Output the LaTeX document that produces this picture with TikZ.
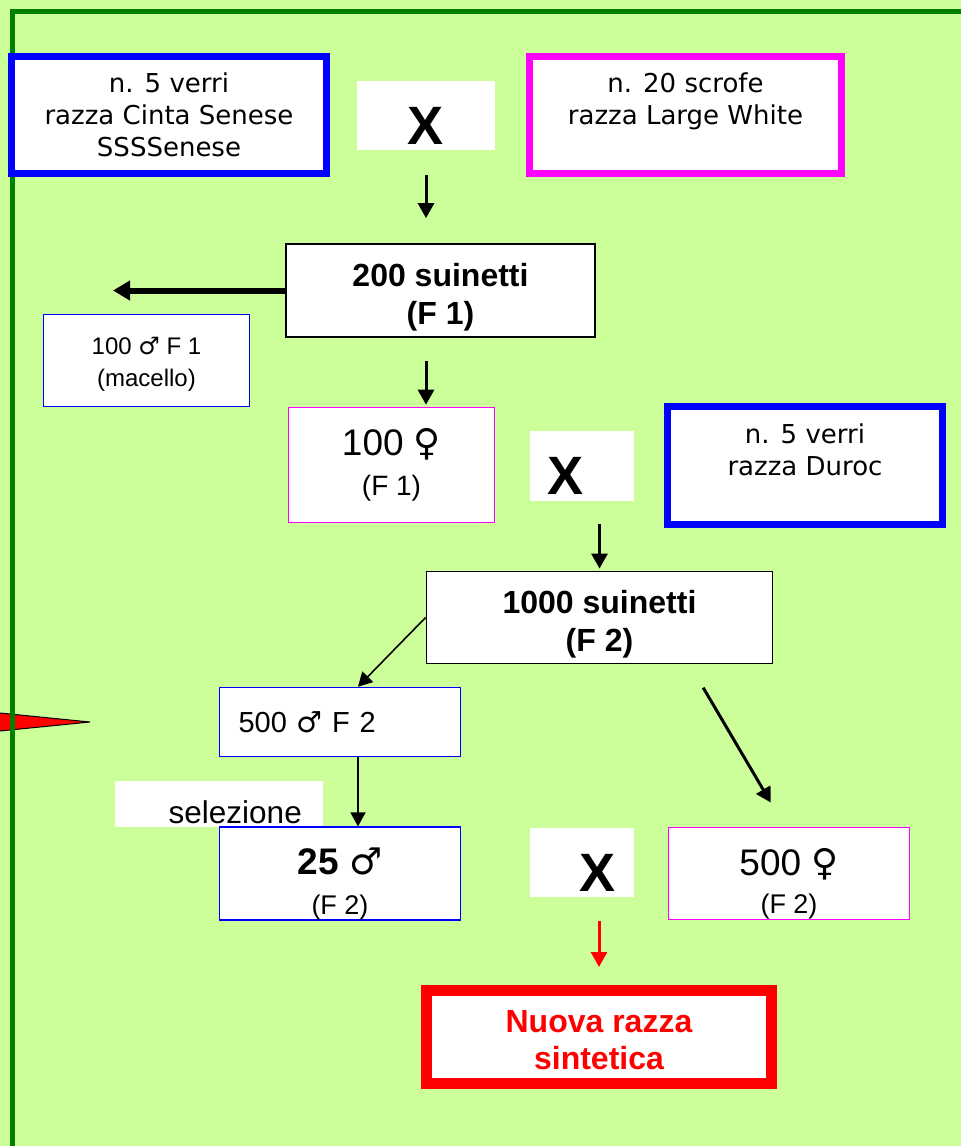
\documentclass[tikz,border=0pt]{standalone}
\usepackage{fontspec}
\setmainfont{Liberation Sans}
\newfontfamily\verdana{DejaVu Sans}
\newfontfamily\symb{DejaVu Sans}
\usetikzlibrary{arrows.meta,positioning,calc}
\definecolor{Leaf}{HTML}{CCFF99}
\definecolor{Forest}{HTML}{008000}
\definecolor{Royal}{HTML}{0000FF}
\definecolor{Fuchsia}{HTML}{FF00FF}
\definecolor{Scarlet}{HTML}{FF0000}
\newcommand{\fsz}[2]{\fontsize{#1}{#2}\selectfont}
\newcommand{\mars}{{\symb\mdseries ♂}}
\newcommand{\venus}{{\symb\mdseries ♀}}

\begin{document}
\begin{tikzpicture}[x=1pt,y=-1pt,
  box/.style={draw,fill=white,rectangle,inner sep=0pt,align=center},
  breed/.style={box,line width=7pt,font=\verdana\fsz{26}{32}},
  litter/.style={box,line width=1.8pt,font=\bfseries\fsz{32}{38}},
  group/.style={box,line width=1.6pt},
  xbox/.style={fill=white,inner sep=0pt},
  xmark/.style={anchor=base,inner sep=0pt,font=\bfseries\fsz{54}{54}},
  arr/.style={-{Triangle[length=15pt,width=16pt]},line width=3pt},
  thinarr/.style={-{Triangle[length=14pt,width=15pt]},line width=1.6pt}]
  \fill[Leaf] (0,0) rectangle (961,1146);
  \useasboundingbox (0,0) rectangle (961,1146);
  \begin{scope}
    \clip (0,0) rectangle (961,1146);
    \draw[fill=Scarlet,line width=1pt] (90,722) -- (-60,707) -- (-60,737) -- cycle;
    \draw[Forest,line width=4.5pt] (12.5,1160) -- (12.5,11.5) -- (975,11.5);
  \end{scope}

  \node[breed,draw=Royal,minimum width=315pt,minimum height=117pt] (cinta) at (169,115) {n. 5 verri\\razza Cinta Senese\\SSSSenese};
  \node[xbox,minimum width=138pt,minimum height=69pt] (xa) at (426,115.5) {};
  \node[xmark] (xamark) at (426,144) {X};
  \node[breed,draw=Fuchsia,minimum width=312pt,minimum height=117pt] (lw) at (685.5,115) {n. 20 scrofe\\razza Large White\\\mbox{}};

  \node[litter,minimum width=309pt,minimum height=93pt] (fa) at (440.5,290.5) {\rule{0pt}{37pt}200 suinetti\\(F 1)};
  \coordinate (macello) at (113,290.5);
  \node[group,draw=Royal,font=\fsz{24}{32},minimum width=206pt,minimum height=92pt] (maschia) at (146.5,360.5) {\rule{0pt}{24pt}100 \mars{} F 1\\(macello)};
  \node[group,draw=Fuchsia,font=\fsz{28}{40},minimum width=206pt,minimum height=115pt] (femmina) at (391.5,465) {{\fsz{37}{40}100 \venus}\\(F 1)};
  \node[xbox,minimum width=104pt,minimum height=70pt] (xb) at (582,466) {};
  \node[xmark] (xbmark) at (566,494) {X};
  \node[breed,draw=Royal,minimum width=275pt,minimum height=118pt] (duroc) at (805,465.5) {n. 5 verri\\razza Duroc\\\mbox{}};

  \node[litter,minimum width=346pt,minimum height=92pt] (fb) at (599.5,617.5) {\rule{0pt}{37pt}1000 suinetti\\(F 2)};
  \node[group,draw=Royal,font=\fsz{29}{34},align=left,text width=203pt,inner xsep=19pt,minimum height=69pt] (maschib) at (340,722) {500 \mars{} F 2};
  \node[xbox,minimum width=208pt,minimum height=46pt] (selbox) at (219,804) {};
  \node[font=\fsz{31.5}{36},anchor=base east,inner sep=0pt] (sel) at (302,823) {selezione};
  \node[group,draw=Royal,font=\fsz{27}{40},minimum width=241pt,minimum height=92pt] (venticinque) at (340,873.5) {\rule{0pt}{47pt}{\fsz{37}{40}\textbf{25} \mars}\\(F 2)};
  \node[xbox,minimum width=104pt,minimum height=69pt] (xc) at (582,862.5) {};
  \node[xmark] (xcmark) at (598,891) {X};
  \node[group,draw=Fuchsia,font=\fsz{27}{38},minimum width=241pt,minimum height=92pt] (cinquecento) at (789,873.5) {\rule{0pt}{47pt}{\fsz{37}{38}500 \venus}\\(F 2)};
  \node[box,draw=Scarlet,line width=11pt,text=Scarlet,font=\bfseries\fsz{32}{37},minimum width=345pt,minimum height=93pt] (nuova) at (599,1037) {\rule{0pt}{29pt}Nuova razza\\sintetica};

  \draw[arr,shorten <=25pt,shorten >=25pt] (xa.south) -- (xa.south |- fa.north);
  \draw[-{Triangle[length=17pt,width=19pt]},line width=6pt] (fa.west) -- (macello);
  \draw[arr,shorten <=23pt,shorten >=2pt] (fa.south -| xa.south) -- (femmina.north -| xa.south);
  \draw[arr,shorten <=23pt,shorten >=2pt] (xb.south -| fb.north) -- (fb.north);
  \draw[thinarr] (fb.west) -- ([xshift=18pt]maschib.north);
  \draw[thinarr] ([xshift=18pt]maschib.south) -- ([xshift=18pt]venticinque.north);
  \draw[arr,shorten <=27pt,shorten >=28pt] ([xshift=90pt]fb.south) -- ([xshift=-4pt]cinquecento.north);
  \draw[arr,Scarlet,shorten <=24pt,shorten >=18pt] (xc.south -| nuova.north) -- (nuova.north);
\end{tikzpicture}
\end{document}
